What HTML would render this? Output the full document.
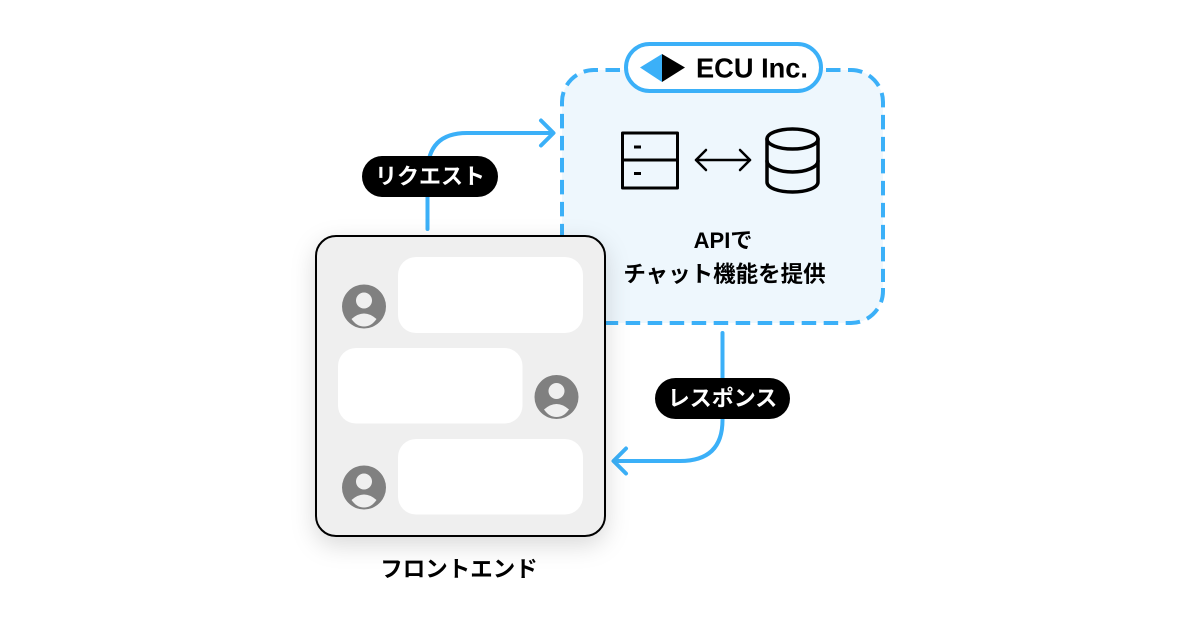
<!DOCTYPE html>
<html lang="ja">
<head>
<meta charset="utf-8">
<style>
html,body{margin:0;padding:0;background:#fff;width:1200px;height:630px;overflow:hidden}
svg{display:block}
text{font-family:"Liberation Sans","Noto Sans CJK JP",sans-serif;font-weight:700}
</style>
</head>
<body>
<svg width="1200" height="630" viewBox="0 0 1200 630" xmlns="http://www.w3.org/2000/svg">
<defs>
<filter id="sh" x="-25%" y="-25%" width="150%" height="150%">
<feDropShadow dx="0" dy="8" stdDeviation="12" flood-color="#000" flood-opacity="0.15"/>
</filter>
</defs>
<rect width="1200" height="630" fill="#fff"/>

<!-- API box -->
<rect x="562" y="70" width="321" height="253" rx="32" fill="#eef7fd"/>
<g fill="none" stroke="#3bb0f8" stroke-width="4" stroke-dasharray="14.500 7.500">
<path d="M826 70H851A32 32 0 0 1 883 102V282"/>
<path d="M883 288V291A32 32 0 0 1 851 323H605"/>
<path d="M620 70H594A32 32 0 0 0 562 102V236"/>
</g>

<!-- Logo pill -->
<rect x="626" y="44" width="195" height="47" rx="23.500" fill="#fff" stroke="#3bb0f8" stroke-width="4"/>
<polygon points="640,67.500 662,54 662,82" fill="#3bb0f8"/>
<polygon points="662,54 685,67.500 662,82" fill="#000"/>
<text x="696" y="77.500" font-size="27.500" fill="#000" textLength="112" lengthAdjust="spacingAndGlyphs">ECU Inc.</text>

<!-- Server icon -->
<g fill="none" stroke="#000" stroke-width="3" stroke-linejoin="round">
<rect x="622.500" y="133" width="55" height="55"/>
<path d="M622.500 160H677.500"/>
<path d="M634 147H641M634 173.500H641"/>
</g>

<!-- Double arrow -->
<g fill="none" stroke="#000" stroke-width="2.500" stroke-linecap="round" stroke-linejoin="round">
<path d="M696 160H750"/>
<path d="M706 150L696 160L706 170"/>
<path d="M740 150L750 160L740 170"/>
</g>

<!-- DB icon -->
<g fill="none" stroke="#000" stroke-width="3.500" stroke-linecap="round">
<ellipse cx="792.500" cy="139" rx="25.500" ry="10"/>
<path d="M767 139V182C767 188 779 192 792.500 192C806 192 818 188 818 182V139"/>
<path d="M767 161C767 167 779 172 792.500 172C806 172 818 167 818 161"/>
</g>

<!-- API text -->
<text x="723" y="248" font-size="22" fill="#000" text-anchor="middle">APIで</text>
<text x="724.500" y="282" font-size="22.500" fill="#000" text-anchor="middle">チャット機能を提供</text>

<!-- Request arrow -->
<g fill="none" stroke="#3bb0f8" stroke-width="4" stroke-linecap="round" stroke-linejoin="round">
<path d="M427.500 229V173Q427.500 133 467 133H553"/>
<path d="M541 120.500L553.500 133L541 145.500"/>
<!-- Response arrow -->
<path d="M722.500 333V420Q722.500 461 680 461H614"/>
<path d="M626 448.500L613.500 461L626 473.500"/>
</g>

<!-- Request pill -->
<rect x="362" y="156" width="136" height="41" rx="20.500" fill="#000"/>
<text x="430" y="184" font-size="22" fill="#fff" text-anchor="middle">リクエスト</text>

<!-- Response pill -->
<rect x="655" y="378" width="135" height="41" rx="20.500" fill="#000"/>
<text x="722.500" y="406" font-size="22" fill="#fff" text-anchor="middle">レスポンス</text>

<!-- Frontend card -->
<rect x="316" y="236" width="289" height="300" rx="20" fill="#efefef" stroke="#000" stroke-width="2" filter="url(#sh)"/>
<rect x="398" y="257" width="185" height="76" rx="18" fill="#fff"/>
<rect x="338" y="348" width="184.500" height="75.500" rx="18" fill="#fff"/>
<rect x="398" y="439" width="185" height="75.500" rx="18" fill="#fff"/>

<!-- Avatars -->
<g>
<circle cx="364" cy="306.500" r="22" fill="#808080"/>
<circle cx="364" cy="300.500" r="8" fill="#efefef"/>
<path d="M351.500 319Q364 308 376.500 319C373 324 369 326.500 364 326.500C359 326.500 355 324 351.500 319Z" fill="#efefef"/>
</g>
<g>
<circle cx="556.500" cy="397" r="22" fill="#808080"/>
<circle cx="556.500" cy="391" r="8" fill="#efefef"/>
<path d="M544 409.500Q556.500 398.500 569 409.500C565.500 414.500 561.500 417 556.500 417C551.500 417 547.500 414.500 544 409.500Z" fill="#efefef"/>
</g>
<g>
<circle cx="364" cy="487.500" r="22" fill="#808080"/>
<circle cx="364" cy="481.500" r="8" fill="#efefef"/>
<path d="M351.500 500Q364 489 376.500 500C373 505 369 507.500 364 507.500C359 507.500 355 505 351.500 500Z" fill="#efefef"/>
</g>

<!-- Frontend label -->
<text x="459" y="577" font-size="22.500" fill="#000" text-anchor="middle">フロントエンド</text>
</svg>
</body>
</html>
